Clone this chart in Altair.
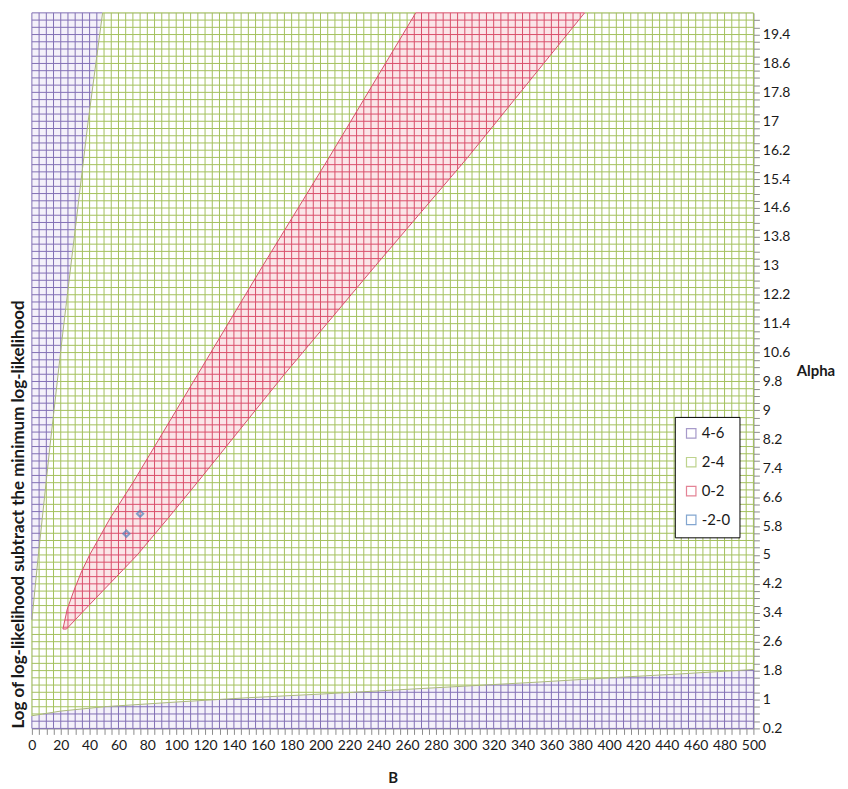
import altair as alt
import numpy as np
import pandas as pd

# ---- surface mesh (data grid of the contour chart) ----
B_GRID = list(range(0, 501, 5))
A_GRID = [round(0.2 + 0.2 * k, 1) for k in range(100)]

# ---- band boundaries ----
# left wedge 4-6 / 2-4 : B at given alpha
LEFT_P_ALPHA = [3.2, 5.0, 8.0, 11.0, 14.0, 17.0, 20.0]
LEFT_P_B = [0.0, 4.5, 12.5, 21.0, 30.0, 39.0, 49.0]
# bottom 4-6 / 2-4 : alpha at given B
BOT_B = [0, 20, 50, 100, 150, 200, 250, 300, 350, 400, 450, 500]
BOT_A = [0.55, 0.68, 0.8, 0.93, 1.05, 1.15, 1.26, 1.37, 1.48, 1.6, 1.71, 1.83]
# 0-2 band : left and right B edges at given alpha
RED_ALPHA = [2.95, 3.5, 4.0, 4.5, 5.0, 6.0, 7.0, 10.0, 13.0, 16.0, 20.0]
RED_LEFT_B = [21.5, 24.5, 29.0, 34.0, 40.0, 54.0, 70.0, 115.0, 160.0, 206.0, 266.0]
RED_RIGHT_B = [24.0, 37.0, 49.0, 61.0, 73.0, 94.0, 114.5, 175.0, 238.0, 302.0, 383.0]
# -2-0 tiny islands
BLUE_B = [65.5, 75.0]
BLUE_A = [5.59, 6.14]

BANDS = ["4-6", "2-4", "0-2", "-2-0"]
COLORS = ["#8270b4", "#a3c15e", "#d9506a", "#4f81bd"]

B_TICKS = list(range(0, 501, 5))
A_TICKS = A_GRID[:-1]
TITLE_LEFT = "Log of log-likelihood subtract the minimum log-likelihood"


def classify(b, a):
    b = np.asarray(b, dtype=float)
    a = np.asarray(a, dtype=float)
    lp = np.interp(a, LEFT_P_ALPHA, LEFT_P_B, left=-1.0)
    bot = np.interp(b, BOT_B, BOT_A)
    rl = np.interp(a, RED_ALPHA, RED_LEFT_B)
    rr = np.interp(a, RED_ALPHA, RED_RIGHT_B)
    out = np.full(np.broadcast(b, a).shape, "2-4", dtype=object)
    red = (a >= RED_ALPHA[0]) & (b >= rl) & (b <= rr)
    out[red] = "0-2"
    purple = (a < bot) | (b < lp)
    out[purple] = "4-6"
    return out


def runs(vals, labels, lo, hi):
    segs = []
    start = 0
    n = len(vals)
    for i in range(1, n + 1):
        if i == n or labels[i] != labels[start]:
            s = lo if start == 0 else (vals[start - 1] + vals[start]) / 2
            e = hi if i == n else (vals[i - 1] + vals[i]) / 2
            segs.append((s, e, labels[start]))
            start = i
    return segs


rows = []
a_s = np.linspace(0.2, 20.0, 1981)
for b in B_GRID:
    lab = classify(np.full_like(a_s, b), a_s)
    for s, e, band in runs(a_s, lab, 0.2, 20.0):
        rows.append({"x": b, "x2": b, "y": s, "y2": e, "band": band})
b_s = np.linspace(0, 500, 5001)
for a in A_GRID:
    lab = classify(b_s, np.full_like(b_s, a))
    for s, e, band in runs(b_s, lab, 0, 500):
        rows.append({"x": s, "x2": e, "y": a, "y2": a, "band": band})
mesh = pd.DataFrame(rows)

xs = alt.Scale(domain=[0, 500], nice=False, zero=False)
ys = alt.Scale(domain=[0.2, 20.0], nice=False, zero=False)
cscale = alt.Scale(domain=BANDS, range=COLORS)

x_axis = alt.Axis(values=B_TICKS, labelExpr="datum.value % 20 == 0 ? datum.label : ''",
                  grid=False, tickColor="#8c8c8c", domainColor="#8c8c8c", tickSize=6,
                  labelFont="Lato", labelFontSize=14, labelColor="#1a1a1a", labelPadding=4,
                  labelOverlap=False, labelFlush=False,
                  title="B", titleFont="Lato", titleFontSize=15, titleFontWeight="bold",
                  titleColor="#1a1a1a", titlePadding=18)
y_axis = alt.Axis(orient="right", values=A_TICKS,
                  labelExpr="abs((datum.value - 0.2) / 0.8 - round((datum.value - 0.2) / 0.8)) < 0.01 ? format(datum.value, '~g') : ''",
                  grid=False, tickColor="#8c8c8c", domainColor="#8c8c8c", tickSize=6,
                  labelFont="Lato", labelFontSize=14, labelColor="#1a1a1a", labelPadding=3,
                  labelOverlap=False, labelFlush=False, labelBaseline="middle",
                  title="Alpha", titleFont="Lato", titleFontSize=15, titleFontWeight="bold",
                  titleColor="#1a1a1a", titleAngle=0, titleAlign="left", titleBaseline="middle",
                  titleX=43, titleY=359)

# light fills of the bands
left_fill = pd.DataFrame({"a": LEFT_P_ALPHA, "b": LEFT_P_B})
bot_fill = pd.DataFrame({"b": BOT_B, "a": BOT_A})
red_fill = pd.DataFrame({"a": RED_ALPHA, "bl": RED_LEFT_B, "br": RED_RIGHT_B})

fill_left = alt.Chart(left_fill).mark_area(orient="horizontal", color="#f4f1fa").encode(
    y=alt.Y("a:Q", scale=ys, axis=y_axis), x=alt.X("b:Q", scale=xs, axis=x_axis), x2=alt.datum(0))
fill_bot = alt.Chart(bot_fill).mark_area(color="#f4f1fa").encode(
    x=alt.X("b:Q", scale=xs, axis=x_axis), y=alt.Y("a:Q", scale=ys, axis=y_axis), y2=alt.datum(0.2))
fill_red = alt.Chart(red_fill).mark_area(orient="horizontal", color="#fbe5e8").encode(
    y=alt.Y("a:Q", scale=ys, axis=y_axis), x=alt.X("bl:Q", scale=xs, axis=x_axis), x2="br:Q")

legend = alt.Legend(orient="none", legendX=646, legendY=406, title=None,
                    symbolType="square", symbolSize=90, symbolStrokeWidth=1.2,
                    symbolFillColor="white", labelFont="Lato", labelFontSize=15,
                    labelColor="#1a1a1a", rowPadding=13, padding=9,
                    strokeColor="#000000", fillColor="white", labelOffset=3)

mesh_layer = alt.Chart(mesh).mark_rule(strokeWidth=1).encode(
    x=alt.X("x:Q", scale=xs, axis=x_axis), x2="x2:Q", y=alt.Y("y:Q", scale=ys, axis=y_axis), y2="y2:Q",
    color=alt.Color("band:N", scale=cscale, legend=legend))

red_edge = pd.DataFrame({
    "b": RED_LEFT_B[::-1] + RED_RIGHT_B,
    "a": RED_ALPHA[::-1] + RED_ALPHA,
    "o": list(range(2 * len(RED_ALPHA)))})
red_line = alt.Chart(red_edge).mark_line(color="#d9506a", strokeWidth=1).encode(
    x=alt.X("b:Q", scale=xs, axis=x_axis), y=alt.Y("a:Q", scale=ys, axis=y_axis), order="o:Q")
left_line = alt.Chart(left_fill).mark_line(color="#aab87c", strokeWidth=1).encode(
    x=alt.X("b:Q", scale=xs, axis=x_axis), y=alt.Y("a:Q", scale=ys, axis=y_axis), order="a:Q")
bot_line = alt.Chart(bot_fill).mark_line(color="#aab87c", strokeWidth=1).encode(
    x=alt.X("b:Q", scale=xs, axis=x_axis), y=alt.Y("a:Q", scale=ys, axis=y_axis))

blue = pd.DataFrame({"b": BLUE_B, "a": BLUE_A, "band": ["-2-0", "-2-0"]})
blue_layer = alt.Chart(blue).mark_point(shape="diamond", filled=False, size=40, strokeWidth=2).encode(
    x=alt.X("b:Q", scale=xs, axis=x_axis), y=alt.Y("a:Q", scale=ys, axis=y_axis),
    color=alt.Color("band:N", scale=cscale, legend=legend))

title_df = pd.DataFrame({"t": [TITLE_LEFT]})
title_layer = alt.Chart(title_df).mark_text(angle=270, font="Lato", fontSize=17, fontWeight="bold",
                                            color="#1a1a1a", align="center", baseline="middle").encode(
    x=alt.value(-13), y=alt.value(504), text="t:N")

chart = alt.layer(fill_left, fill_bot, fill_red, mesh_layer, red_line, left_line, bot_line,
                  blue_layer, title_layer).properties(
    width=725, height=719,
    padding={"left": 1, "top": 1, "right": 5, "bottom": 5},
).configure_view(stroke="#9a9a9a", strokeWidth=1).configure_axis(
    labelOverlap=False, labelFlush=False
).configure(background="white")

chart.save("out.html", embed_options={"renderer": "svg", "actions": False})
